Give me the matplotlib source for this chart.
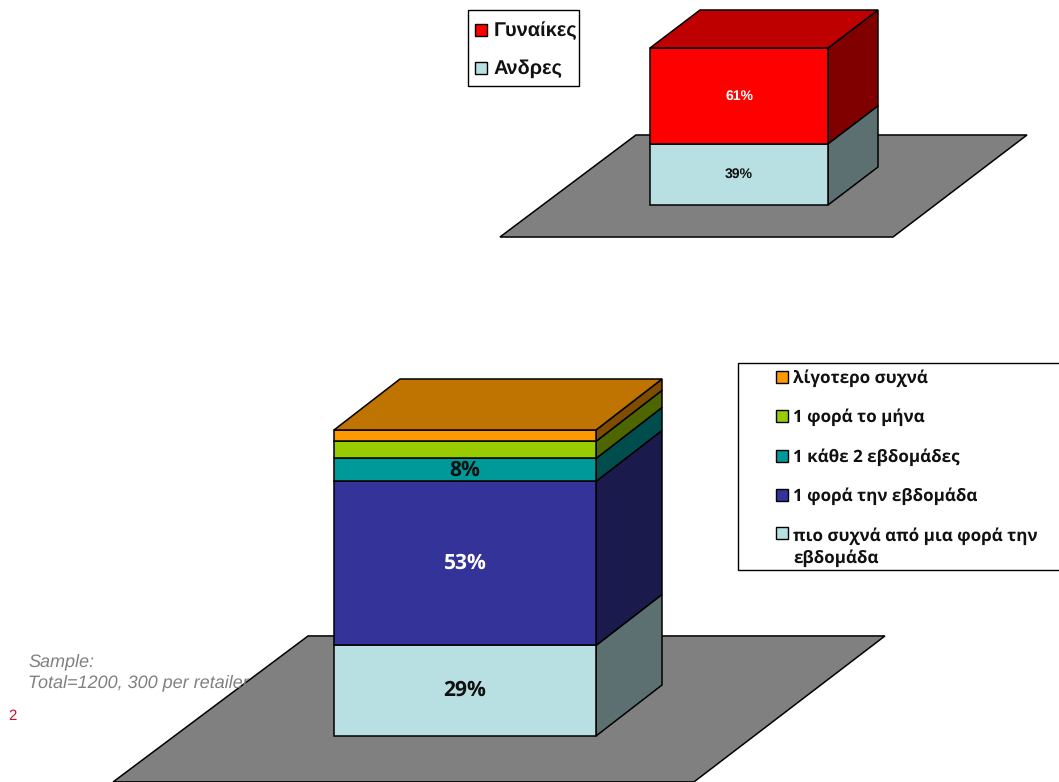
import matplotlib
matplotlib.use('Agg')
import matplotlib.pyplot as plt
from matplotlib.patches import Polygon, Rectangle

plt.rcParams['text.hinting'] = 'none'
plt.rcParams['text.hinting_factor'] = 1

W, H = 1059, 782

# dados
gender_names = ['Ανδρες', 'Γυναίκες']
gender_values = [39, 61]
gender_labels = ['39%', '61%']
gender_label_colors = ['#111111', 'white']
gender_colors = ['#B8E0E3', '#FF0000']

freq_names = ['πιο συχνά από μια φορά την\nεβδομάδα', '1 φορά την εβδομάδα',
              '1 κάθε 2 εβδομάδες', '1 φορά το μήνα', 'λίγοτερο συχνά']
freq_values = [29.6, 53.6, 7.5, 5.6, 3.7]
freq_labels = ['29%', '53%', '8%', '', '']
freq_label_colors = ['#111111', 'white', '#111111', '#111111', '#111111']
freq_colors = ['#B8E0E3', '#333399', '#009999', '#99CC00', '#FF9900']

sans = ['Open Sans', 'DejaVu Sans']
arial = ['Liberation Sans', 'DejaVu Sans']


def darker(color, k):
    r, g, b = matplotlib.colors.to_rgb(color)
    return (r * k, g * k, b * k)


def make_axes(fig, x0, base, px_x, px_y):
    # eixos em que a barra vai de 0 a 1 em x e de 0 a 100 em y
    ax = fig.add_axes([0, 0, 1, 1], facecolor='none')
    ax.set_xlim(-x0 / px_x, (W - x0) / px_x)
    ax.set_ylim(-(H - base) / px_y, base / px_y)
    ax.axis('off')
    return ax


def draw_stack(ax, values, colors, labels, label_colors, dx, dy, floor, lw, fontsize, family):
    ax.add_patch(Polygon(floor, closed=True, fc='#808080', ec='black', lw=lw))
    bottom = 0
    for i in range(len(values)):
        top = bottom + values[i]
        c = colors[i]
        ax.add_patch(Polygon([(1, bottom), (1 + dx, bottom + dy), (1 + dx, top + dy), (1, top)],
                             closed=True, fc=darker(c, 0.5), ec='black', lw=lw))
        ax.add_patch(Rectangle((0, bottom), 1, values[i], fc=c, ec='black', lw=lw))
        if labels[i]:
            ax.text(0.5, (bottom + top) / 2, labels[i], color=label_colors[i], ha='center',
                    va='center', fontsize=fontsize, fontweight='bold', family=family)
        bottom = top
    ax.add_patch(Polygon([(0, bottom), (dx, bottom + dy), (1 + dx, bottom + dy), (1, bottom)],
                         closed=True, fc=darker(colors[-1], 0.75), ec='black', lw=lw))


def draw_legend(ov, box, names, colors, rows, swatch_x, text_x, size, fontsize, family):
    ov.add_patch(Rectangle((box[0], box[1]), box[2] - box[0], box[3] - box[1],
                           fc='white', ec='black', lw=1.0, zorder=5))
    for name, c, y in zip(names, colors, rows):
        ov.add_patch(Rectangle((swatch_x, y - size / 2), size, size, fc=c, ec='black', lw=1.0, zorder=6))
        if '\n' in name:
            ov.text(text_x, y - 6, name, fontsize=fontsize, fontweight='bold', family=family,
                    va='top', linespacing=1.38, color='#111111', zorder=6)
        else:
            ov.text(text_x, y + 1, name, fontsize=fontsize, fontweight='bold', family=family,
                    va='center', color='#111111', zorder=6)


fig = plt.figure(figsize=(W / 100, H / 100), dpi=100)

# grafico de cima
ax1 = make_axes(fig, 650, 205, 178, 1.57)
draw_stack(ax1, gender_values, gender_colors, gender_labels, gender_label_colors,
           50 / 178, 38 / 1.57,
           [(-0.843, -20.4), (1.365, -20.4), (2.118, 44.6), (-0.079, 44.6)],
           1.1, 10, arial)

# grafico de baixo
ax2 = make_axes(fig, 334, 736, 262, 3.06)
draw_stack(ax2, freq_values, freq_colors, freq_labels, freq_label_colors,
           66 / 262, 51 / 3.06,
           [(-0.843, -15), (1.374, -15), (2.103, 32.7), (-0.099, 32.7)],
           1.1, 15, sans)

# camada em pixels para legendas e textos soltos
ov = fig.add_axes([0, 0, 1, 1], facecolor='none')
ov.set_xlim(0, W)
ov.set_ylim(H, 0)
ov.axis('off')

draw_legend(ov, (468, 10, 579, 86), gender_names[::-1], gender_colors[::-1], [30, 68],
            475, 494, 12, 14.3, arial)
draw_legend(ov, (738, 363, 1062, 570), freq_names[::-1], freq_colors[::-1],
            [377, 416, 456, 495, 533], 776, 793, 12, 12.2, sans)

ov.text(28, 662, 'Sample:', color='#808080', style='italic', fontsize=13, family=arial, va='center')
ov.text(28, 683, 'Total=1200, 300 per retailer', color='#808080', style='italic', fontsize=13,
        family=arial, va='center')
ov.text(8, 716, '2', color='#C8102E', fontsize=10.5, family=arial, va='center')

fig.savefig('out.png', dpi=100)
